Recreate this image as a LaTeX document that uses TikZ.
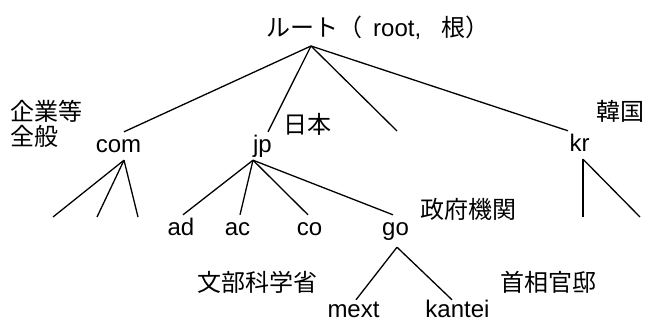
\documentclass[tikz,border=0pt]{standalone}
\usepackage{fontspec}
\setmainfont{Liberation Sans}
\newfontfamily\jpf{Noto Sans CJK JP}
\begin{document}
\begin{tikzpicture}[x=1pt,y=-1pt,
  tn/.style={inner sep=0pt,text height=20pt,text depth=8pt,font=\fontsize{24}{25}\selectfont,anchor=base},
  leaf/.style={tn,text depth=0pt},
  jl/.style={inner sep=0pt,font=\fontsize{24}{25}\selectfont\jpf,anchor=base},
  edge/.style={line width=1.3pt}]
\useasboundingbox (0,0) rectangle (647,322);
% root
\node[inner sep=0pt,anchor=base west,font=\fontsize{24}{25}\selectfont] (root) at (266,36)
  {{\jpf ルート（}\hspace{11pt}root,\hspace{20pt}{\jpf 根）}};
\coordinate (rootpt) at (311,46);
% level 1
\node[tn] (com) at (118.5,152) {com};
\node[tn] (jp) at (262.5,152) {jp};
\node[tn] (kr) at (579.5,151) {kr};
\coordinate (blank) at (397,131);
% level 2
\node[tn] (ad) at (181,235) {ad};
\node[tn] (ac) at (237.5,235) {ac};
\node[tn] (co) at (309.5,235) {co};
\node[tn] (go) at (395.5,235) {go};
% level 3
\node[leaf] (mext) at (353.5,317) {mext};
\node[leaf] (kantei) at (457.5,317) {kantei};
% free ends
\coordinate (c1) at (53,217);
\coordinate (c2) at (97,217);
\coordinate (c3) at (138,217);
\coordinate (k1) at (583,217);
\coordinate (k2) at (640,217);
% labels
\node[jl,anchor=base west,align=left] (kigyo) at (10,145) {企業等\\全般};
\node[jl] (nihon) at (307.5,133) {日本};
\node[jl] (kankoku) at (620,120) {韓国};
\node[jl] (seifu) at (468.5,218) {政府機関};
\node[jl] (monbu) at (257,291) {文部科学省};
\node[jl] (shusho) at (548.5,291) {首相官邸};
% edges
\draw[edge] (rootpt) -- ([xshift=5.5pt]com.north);
\draw[edge] (rootpt) -- ([xshift=5.5pt]jp.north);
\draw[edge] (rootpt) -- (blank);
\draw[edge] (rootpt) -- ([xshift=-11.5pt]kr.north);
\draw[edge] ([xshift=5.5pt]com.south) -- (c1);
\draw[edge] ([xshift=5.5pt]com.south) -- (c2);
\draw[edge] ([xshift=5.5pt]com.south) -- (c3);
\draw[edge] ([xshift=-9.5pt]jp.south) -- ([xshift=2pt]ad.north);
\draw[edge] ([xshift=-9.5pt]jp.south) -- ([xshift=2.5pt]ac.north);
\draw[edge] ([xshift=-9.5pt]jp.south) -- ([xshift=-1.5pt]co.north);
\draw[edge] ([xshift=-9.5pt]jp.south) -- ([xshift=-2.5pt]go.north);
\draw[edge] ([xshift=3.5pt]kr.south) -- (k1);
\draw[edge] ([xshift=3.5pt]kr.south) -- (k2);
\draw[edge] ([xshift=1.5pt,yshift=-4pt]go.south) -- ([xshift=2.5pt,yshift=-3pt]mext.north);
\draw[edge] ([xshift=1.5pt,yshift=-4pt]go.south) -- ([xshift=-5.5pt,yshift=-3pt]kantei.north);
\end{tikzpicture}
\end{document}
